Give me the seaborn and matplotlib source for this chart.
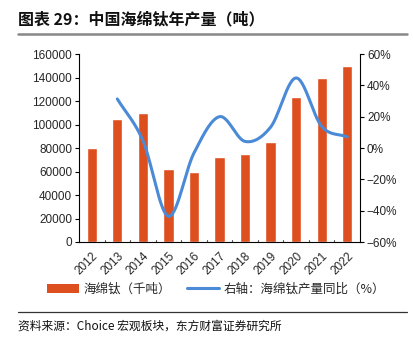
import numpy as np
import pandas as pd
import matplotlib
matplotlib.use("Agg")
import matplotlib.pyplot as plt
import seaborn as sns
from matplotlib.patches import Patch
from matplotlib.lines import Line2D

years = ["2012", "2013", "2014", "2015", "2016", "2017", "2018", "2019", "2020", "2021", "2022"]
output_t = [80000, 105000, 110000, 62000, 60000, 72000, 75000, 85000, 123000, 140000, 150000]
yoy_years = ["2013", "2014", "2015", "2016", "2017", "2018", "2019", "2020", "2021", "2022"]
yoy_pct = [31.3, 4.8, -43.6, -3.2, 20.0, 4.2, 13.3, 44.7, 13.8, 7.1]
left_ticks = [0, 20000, 40000, 60000, 80000, 100000, 120000, 140000, 160000]
right_ticks = [-60, -40, -20, 0, 20, 40, 60]

BAR = "#DE4F1F"
LINE = "#4A8AD6"

sns.set_theme(style="white")
plt.rcParams['font.family'] = ['Liberation Sans', 'Noto Sans CJK SC', 'DejaVu Sans']
CJK = ['Noto Sans CJK SC', 'DejaVu Sans']

fig = plt.figure(figsize=(4.13, 3.43), dpi=100)
W, H = 413, 343
ax = fig.add_axes([79 / W, 1 - 242 / H, (360 - 79) / W, (242 - 54) / H])

df = pd.DataFrame({"year": years, "v": output_t})
sns.barplot(data=df, x="year", y="v", ax=ax, color=BAR, width=0.4, saturation=1)
ax.set_xlim(-0.5, len(years) - 0.5)
ax.set_ylim(0, 160000)
ax.set_yticks(left_ticks)
ax.set_yticklabels([str(t) for t in left_ticks], fontsize=8.5)
ax.set_xlabel("")
ax.set_ylabel("")
ax.set_xticks(range(len(years)))
ax.set_xticklabels(years, rotation=45, fontsize=8.5, ha="right", va="top", rotation_mode="anchor")
ax.tick_params(axis="x", length=0, pad=6)
ax.tick_params(axis="y", length=3, width=0.8, color="black", direction="out", pad=2)
for x in np.arange(0.5, len(years) - 1, 1.0):
    ax.plot([x, x], [0, 1800], color="#555555", lw=0.8, clip_on=False)
for s in ["top", "right"]:
    ax.spines[s].set_visible(False)
ax.spines["left"].set_color("black")
ax.spines["bottom"].set_color("black")
ax.spines["left"].set_linewidth(0.8)
ax.spines["bottom"].set_linewidth(0.8)

ax2 = ax.twinx()
# smoothed line (Catmull-Rom, like Excel smoothing)
xs = np.array([years.index(y) for y in yoy_years], dtype=float)
ys = np.array(yoy_pct, dtype=float)
px = np.concatenate([[2 * xs[0] - xs[1]], xs, [2 * xs[-1] - xs[-2]]])
py = np.concatenate([[2 * ys[0] - ys[1]], ys, [2 * ys[-1] - ys[-2]]])
sx, sy = [], []
for i in range(1, len(px) - 2):
    t = np.linspace(0, 1, 30)
    for arr, out in ((px, sx), (py, sy)):
        p0, p1, p2, p3 = arr[i - 1], arr[i], arr[i + 1], arr[i + 2]
        out.extend(0.5 * ((2 * p1) + (-p0 + p2) * t + (2 * p0 - 5 * p1 + 4 * p2 - p3) * t ** 2
                          + (-p0 + 3 * p1 - 3 * p2 + p3) * t ** 3))
sdf = pd.DataFrame({"x": sx, "y": sy})
sns.lineplot(data=sdf, x="x", y="y", ax=ax2, color=LINE, lw=2.2, sort=False, estimator=None)
ax2.set_ylim(-60, 60)
ax2.set_yticks(right_ticks)
ax2.set_yticklabels([f"{t}%".replace("-", "\u2212") for t in right_ticks], fontsize=8.5)
ax2.set_xlabel("")
ax2.set_ylabel("")
ax2.tick_params(axis="y", length=3, width=0.8, color="black", direction="out", pad=2)
for s in ["top", "left", "bottom"]:
    ax2.spines[s].set_visible(False)
ax2.spines["right"].set_color("black")
ax2.spines["right"].set_linewidth(0.8)
ax2.set_xlim(-0.5, len(years) - 0.5)

# title
fig.text(18 / W, 1 - 19 / H, "图表 29：中国海绵钛年产量（吨）", fontsize=11.5, fontweight="bold",
         family=CJK, ha="left", va="center", color="#111111")
fig.add_artist(Line2D([18 / W, 407 / W], [1 - 34 / H, 1 - 34 / H], color="#888888", lw=1.8))

# legend
handles = [Patch(facecolor=BAR, edgecolor="none"),
           Line2D([0], [0], color=LINE, lw=2.2)]
labels = ["海绵钛（千吨）", "右轴：海绵钛产量同比（%）"]
fig.legend(handles, labels, loc="center", bbox_to_anchor=(216 / W, 1 - 289 / H), ncol=2,
           frameon=False, prop={"family": CJK, "size": 9}, handlelength=2.6,
           handleheight=0.7, columnspacing=1.2, handletextpad=0.4)

# footer
fig.add_artist(Line2D([18 / W, 407 / W], [1 - 312 / H, 1 - 312 / H], color="#333333", lw=0.9))
fig.text(18 / W, 1 - 326 / H, "资料来源：Choice 宏观板块，东方财富证券研究所", fontsize=8.5,
         family=CJK, ha="left", va="center", color="#111111")

fig.savefig("out.png", dpi=100)
